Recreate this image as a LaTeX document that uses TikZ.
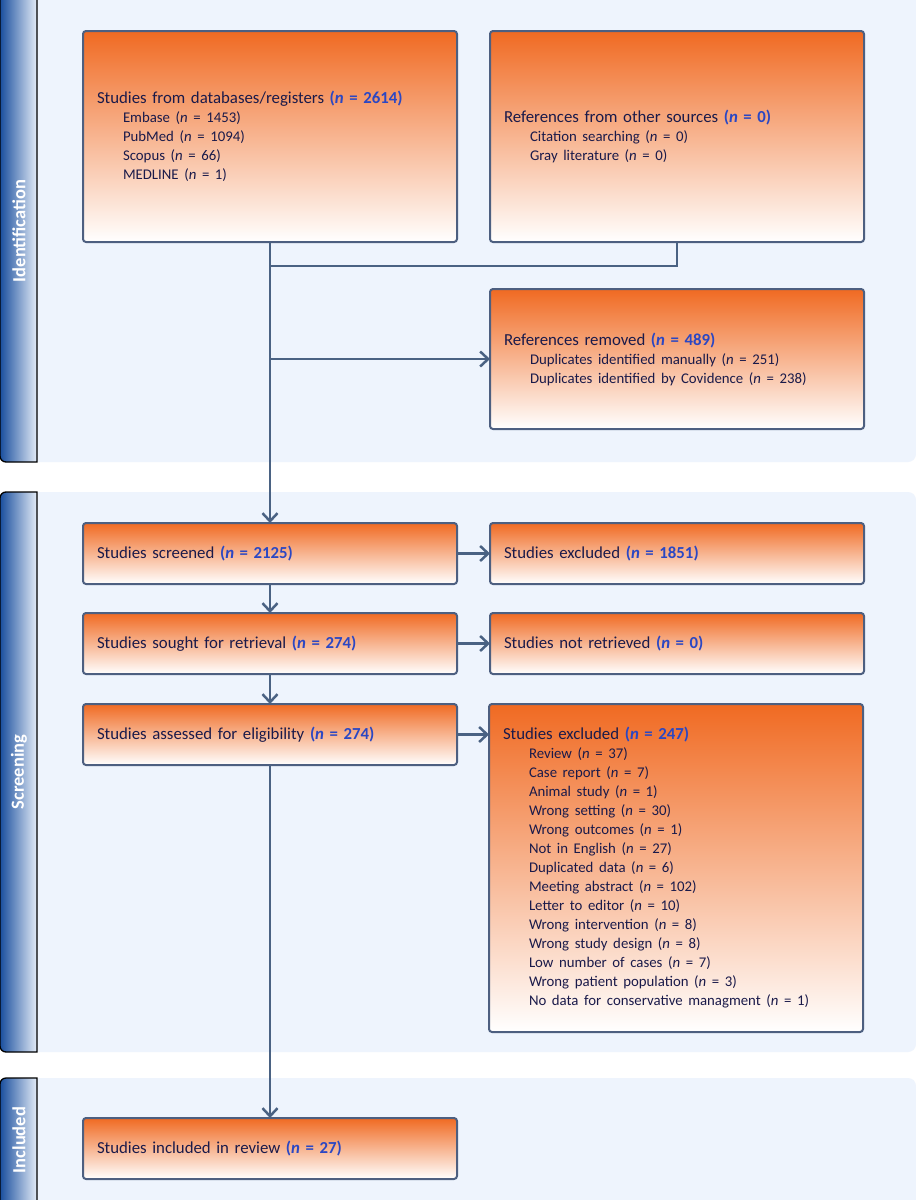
\documentclass[tikz,border=0pt]{standalone}
\usepackage{fontspec}
\setmainfont{Carlito}
\usetikzlibrary{arrows.meta,positioning,calc}
\definecolor{boxorange}{HTML}{F06A22}
\definecolor{boxline}{HTML}{4D5F80}
\definecolor{linkblue}{HTML}{4A6283}
\definecolor{panelblue}{HTML}{EEF4FD}
\definecolor{barblue}{HTML}{1A4F9E}
\definecolor{barpale}{HTML}{E4ECF7}
\definecolor{ink}{HTML}{1A1A4A}
\definecolor{nblue}{HTML}{2B47C3}
\newcommand{\mainsize}{\fontsize{16.8}{19}\selectfont}
\newcommand{\subsize}{\fontsize{14.8}{19}\selectfont}
\newcommand{\nval}[1]{\textcolor{nblue}{\textbf{(\textit{n} = #1)}}}
\newcommand{\subline}[1]{\hspace*{26pt}{\subsize #1}}
\tikzset{
	box/.style={draw=boxline, line width=2pt, rounded corners=3pt, top color=boxorange, bottom color=white, text=ink, align=left, text width=346pt, inner xsep=14pt, inner ysep=0pt, outer sep=0pt, minimum height=61pt, font=\mainsize},
	panel/.style={fill=panelblue, rounded corners=8pt},
	sidebar/.style={draw=black, line width=1.3pt, left color=barblue, right color=barpale},
	barlabel/.style={rotate=90, text=white, font=\bfseries\fontsize{18.5}{18.5}\selectfont},
	link/.style={draw=linkblue, line width=2.5pt},
	flow/.style={link, -{Straight Barb[length=8pt,width=15pt]}}
}
\begin{document}
\begin{tikzpicture}[x=1pt, y=-1pt, node distance=29pt and 33pt]
	\useasboundingbox (0,0) rectangle (916,1200);
	\fill[white] (0,0) rectangle (916,1200);
	\path[panel] (20,-10) rectangle (916,462);
	\path[panel] (20,492) rectangle (916,1052);
	\path[panel] (20,1078) rectangle (916,1220);
	\path[sidebar] (37,-10) -- (0,-10) [rounded corners=6pt] -- (0,462) [sharp corners] -- (37,462) -- cycle;
	\path[sidebar] (37,492) [rounded corners=6pt] -- (0,492) -- (0,1052) [sharp corners] -- (37,1052) -- cycle;
	\path[sidebar] (37,1220) -- (0,1220) [rounded corners=6pt] -- (0,1078) [sharp corners] -- (37,1078) -- cycle;
	\node[barlabel] (idlabel) at (19,231) {Identification};
	\node[barlabel] (scrlabel) at (19,772) {Screening};
	\node[barlabel] (inclabel) at (19,1140) {Included};
	\node[box, minimum height=211pt] (db) at (270,136.5) {Studies from databases/registers \nval{2614}\\
		\subline{Embase (\textit{n} = 1453)}\\
		\subline{PubMed (\textit{n} = 1094)}\\
		\subline{Scopus (\textit{n} = 66)}\\
		\subline{MEDLINE (\textit{n} = 1)}};
	\node[box, minimum height=211pt, right=of db] (other) {References from other sources \nval{0}\\
		\subline{Citation searching (\textit{n} = 0)}\\
		\subline{Gray literature (\textit{n} = 0)}};
	\node[box, minimum height=140pt, below=47pt of other] (removed) {References removed \nval{489}\\
		\subline{Duplicates identified manually (\textit{n} = 251)}\\
		\subline{Duplicates identified by Covidence (\textit{n} = 238)}};
	\node[box] (screened) at (270,553.5) {Studies screened \nval{2125}};
	\node[box, right=of screened] (excl1) {Studies excluded \nval{1851}};
	\node[box, below=of screened] (sought) {Studies sought for retrieval \nval{274}};
	\node[box, right=of sought] (notret) {Studies not retrieved \nval{0}};
	\node[box, below=30pt of sought] (assessed) {Studies assessed for eligibility \nval{274}};
	\node[box, minimum height=328pt, right=32pt of assessed.north east, anchor=north west] (excl2) {Studies excluded \nval{247}\\
		\subline{Review (\textit{n} = 37)}\\
		\subline{Case report (\textit{n} = 7)}\\
		\subline{Animal study (\textit{n} = 1)}\\
		\subline{Wrong setting (\textit{n} = 30)}\\
		\subline{Wrong outcomes (\textit{n} = 1)}\\
		\subline{Not in English (\textit{n} = 27)}\\
		\subline{Duplicated data (\textit{n} = 6)}\\
		\subline{Meeting abstract (\textit{n} = 102)}\\
		\subline{Letter to editor (\textit{n} = 10)}\\
		\subline{Wrong intervention (\textit{n} = 8)}\\
		\subline{Wrong study design (\textit{n} = 8)}\\
		\subline{Low number of cases (\textit{n} = 7)}\\
		\subline{Wrong patient population (\textit{n} = 3)}\\
		\subline{No data for conservative managment (\textit{n} = 1)}};
	\node[box, below=353pt of assessed] (included) {Studies included in review \nval{27}};
	\coordinate (join) at ($(db.south)+(0,24)$);
	\draw[flow] (db.south) -- (screened.north);
	\draw[link] (other.south) |- (join);
	\draw[flow] (db.south |- removed.west) -- (removed.west);
	\draw[flow] (screened.east) -- (excl1.west);
	\draw[flow] (screened.south) -- (sought.north);
	\draw[flow] (sought.east) -- (notret.west);
	\draw[flow] (sought.south) -- (assessed.north);
	\draw[flow] (assessed.east) -- (excl2.west |- assessed.east);
	\draw[flow] (assessed.south) -- (included.north);
\end{tikzpicture}
\end{document}
